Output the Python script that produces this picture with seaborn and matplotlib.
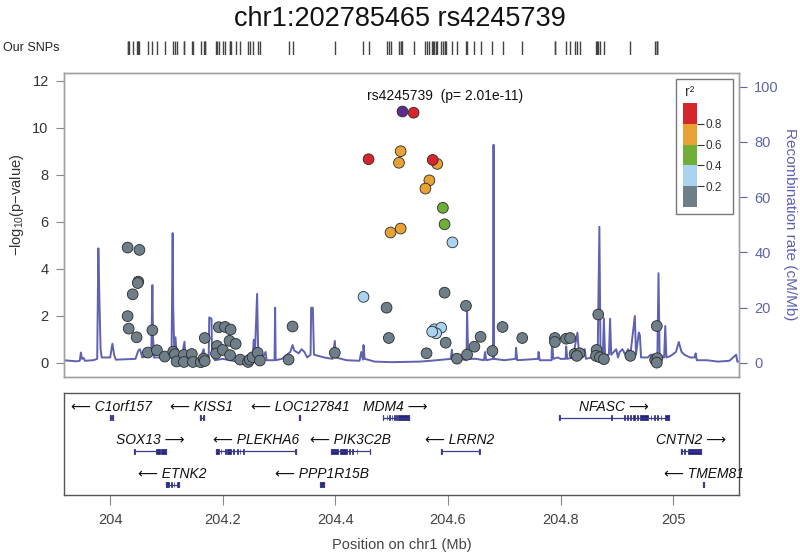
import numpy as np
import pandas as pd
import matplotlib
matplotlib.use("Agg")
import matplotlib.pyplot as plt
import seaborn as sns
from matplotlib.patches import Rectangle
from matplotlib.colors import ListedColormap, BoundaryNorm
from matplotlib.cm import ScalarMappable

# ---- data ----
lead_name = "rs4245739"
lead_p = "2.01e-11"
title = "chr1:202785465 rs4245739"

# SNPs: position (Mb), -log10(p), r2 with the lead SNP
snp_pos = [
    204.031, 204.052, 204.050, 204.049, 204.040, 204.031, 204.033, 204.047, 204.075, 204.067,
    204.083, 204.097, 204.112, 204.115, 204.118, 204.131, 204.131, 204.145, 204.147, 204.161,
    204.166, 204.168, 204.168, 204.190, 204.188, 204.193, 204.204, 204.214, 204.200, 204.212,
    204.223, 204.213, 204.231, 204.245, 204.248, 204.253, 204.262, 204.266, 204.317, 204.324,
    204.399, 204.594, 204.491, 204.632, 204.495, 204.596, 204.562, 204.616, 204.634, 204.647,
    204.658, 204.679, 204.697, 204.732, 204.790, 204.790, 204.810, 204.817, 204.867, 204.825,
    204.834, 204.829, 204.864, 204.863, 204.870, 204.877, 204.924, 204.971, 204.968, 204.972,
    204.971,
    204.608, 204.450, 204.576, 204.588, 204.579, 204.572,
    204.591, 204.594,
    204.516, 204.513, 204.581, 204.567, 204.560, 204.498, 204.516,
    204.539, 204.459, 204.573,
    204.519,
]
snp_logp = [
    4.91, 4.81, 3.46, 3.40, 2.92, 1.99, 1.46, 1.09, 1.39, 0.44,
    0.54, 0.27, 0.48, 0.37, 0.06, 0.34, 0.04, 0.38, 0.04, 0.03,
    0.18, 0.08, 1.06, 0.72, 0.40, 1.52, 1.53, 1.42, 0.55, 0.94,
    0.81, 0.33, 0.14, 0.04, 0.14, 0.24, 0.43, 0.10, 0.14, 1.55,
    0.43, 2.99, 2.35, 2.43, 1.06, 0.86, 0.41, 0.18, 0.35, 0.69,
    1.11, 0.51, 1.53, 1.06, 1.06, 0.89, 1.03, 1.06, 2.06, 0.38,
    0.41, 0.30, 0.55, 0.30, 0.24, 0.16, 0.30, 1.57, 0.13, 0.20,
    0.01,
    5.13, 2.81, 1.43, 1.50, 1.26, 1.33,
    6.60, 5.90,
    9.01, 8.52, 8.47, 7.77, 7.42, 5.55, 5.72,
    10.65, 8.67, 8.64,
    10.71,
]
snp_r2 = [0.1] * 71 + [0.3] * 6 + [0.5] * 2 + [0.7] * 7 + [0.9] * 3 + [1.0]

# recombination rate (cM/Mb)
rec_pos = [
    203.918, 203.940, 203.946, 203.948, 203.950, 203.953, 203.955, 203.970, 203.977, 203.979,
    203.981, 203.983, 203.985, 204.000, 204.004, 204.007, 204.010, 204.045, 204.050, 204.053,
    204.057, 204.065, 204.073, 204.075, 204.076, 204.078, 204.090, 204.100, 204.109, 204.111,
    204.112, 204.114, 204.116, 204.118, 204.127, 204.132, 204.134, 204.145, 204.160, 204.166,
    204.169, 204.175, 204.176, 204.180, 204.181, 204.186, 204.200, 204.225, 204.240, 204.253,
    204.255, 204.257, 204.261, 204.263, 204.270, 204.276, 204.278, 204.292, 204.293, 204.294,
    204.305, 204.320, 204.324, 204.327, 204.335, 204.340, 204.345, 204.350, 204.356, 204.357,
    204.360, 204.362, 204.380, 204.395, 204.399, 204.401, 204.420, 204.443, 204.446, 204.449,
    204.450, 204.452, 204.470, 204.500, 204.550, 204.580, 204.605, 204.607, 204.609, 204.620,
    204.633, 204.634, 204.636, 204.650, 204.664, 204.666, 204.668, 204.680, 204.681, 204.682,
    204.700, 204.720, 204.721, 204.723, 204.760, 204.761, 204.763, 204.784, 204.785, 204.787,
    204.795, 204.800, 204.809, 204.810, 204.812, 204.822, 204.830, 204.833, 204.843, 204.845,
    204.855, 204.866, 204.869, 204.871, 204.875, 204.877, 204.879, 204.886, 204.888, 204.890,
    204.899, 204.902, 204.905, 204.910, 204.915, 204.920, 204.924, 204.932, 204.934, 204.939,
    204.941, 204.943, 204.955, 204.960, 204.965, 204.972, 204.974, 204.976, 204.984, 204.986,
    204.988, 204.995, 205.005, 205.010, 205.015, 205.020, 205.030, 205.038, 205.040, 205.042,
    205.060, 205.080, 205.100, 205.112, 205.114, 205.117,
]
rec_rate = [
    1.0, 0.6, 0.8, 3.8, 1.5, 1.8, 0.8, 1.0, 1.5, 41.5,
    22.0, 5.0, 2.0, 2.0, 7.0, 3.0, 1.2, 1.5, 4.5, 5.0,
    2.0, 2.5, 3.0, 28.2, 10.0, 2.0, 2.0, 1.5, 2.0, 47.0,
    20.0, 3.0, 9.3, 3.0, 2.0, 7.7, 2.0, 1.0, 1.5, 5.0,
    1.5, 2.0, 16.5, 16.0, 3.0, 1.0, 1.5, 0.5, 0.8, 1.2,
    8.4, 2.5, 25.0, 3.0, 1.5, 4.0, 1.0, 1.0, 20.0, 1.0,
    1.5, 4.0, 6.5, 4.5, 3.5, 5.0, 4.0, 2.0, 3.0, 20.0,
    20.0, 3.0, 2.0, 1.5, 8.0, 2.0, 1.0, 0.8, 4.0, 1.2,
    6.5, 1.5, 0.5, 0.3, 0.5, 1.0, 1.5, 4.8, 1.0, 1.5,
    1.0, 19.2, 1.5, 1.5, 1.0, 4.0, 1.0, 1.5, 79.0, 1.5,
    1.0, 1.5, 5.5, 1.0, 1.5, 4.0, 1.0, 1.0, 8.4, 1.5,
    2.0, 1.5, 1.5, 6.0, 1.5, 2.0, 11.0, 3.0, 5.0, 1.5,
    2.0, 3.0, 49.3, 3.0, 2.0, 16.2, 3.0, 3.0, 16.0, 3.0,
    5.0, 2.0, 4.0, 5.0, 3.0, 5.0, 3.0, 17.0, 3.0, 11.0,
    10.0, 2.0, 2.0, 3.0, 3.0, 2.0, 32.5, 3.0, 2.0, 13.4,
    2.0, 2.5, 4.0, 7.6, 4.0, 3.0, 2.0, 2.0, 3.5, 1.0,
    1.0, 0.5, 0.8, 3.0, 0.5, 0.5,
]

# genes
gene_names = ["C1orf157", "KISS1", "LOC127841", "MDM4", "NFASC",
              "SOX13", "PLEKHA6", "PIK3C2B", "LRRN2", "CNTN2",
              "ETNK2", "PPP1R15B", "TMEM81"]
gene_start = [204.000, 204.160, 204.336, 204.484, 204.798,
              204.043, 204.188, 204.392, 204.587, 205.014,
              204.099, 204.373, 205.053]
gene_end = [204.005, 204.166, 204.338, 204.530, 204.993,
            204.099, 204.330, 204.462, 204.656, 205.049,
            204.122, 204.379, 205.055]
gene_strand = ["-", "-", "-", "+", "+", "+", "-", "-", "-", "+", "-", "-", "-"]
gene_row = [0, 0, 0, 0, 0, 1, 1, 1, 1, 1, 2, 2, 2]
gene_exons = [
    [(204.000, 204.0015), (204.0035, 204.005)],
    [(204.160, 204.1615), (204.1645, 204.166)],
    [(204.336, 204.338)],
    [(204.484, 204.485), (204.491, 204.492), (204.496, 204.497), (204.500, 204.501),
     (204.504, 204.505), (204.508, 204.509), (204.512, 204.530)],
    [(204.798, 204.799), (204.890, 204.891), (204.913, 204.914), (204.918, 204.919),
     (204.924, 204.925), (204.928, 204.933), (204.936, 204.937), (204.941, 204.955),
     (204.960, 204.961), (204.966, 204.967), (204.972, 204.973), (204.978, 204.979),
     (204.985, 204.993)],
    [(204.043, 204.044), (204.081, 204.088), (204.091, 204.099)],
    [(204.188, 204.193), (204.196, 204.197), (204.204, 204.205), (204.208, 204.214),
     (204.219, 204.220), (204.225, 204.226), (204.230, 204.231), (204.236, 204.237),
     (204.329, 204.330)],
    [(204.392, 204.405), (204.408, 204.420), (204.424, 204.425), (204.430, 204.431),
     (204.438, 204.439), (204.461, 204.462)],
    [(204.587, 204.589), (204.655, 204.657)],
    [(205.014, 205.015), (205.020, 205.021), (205.027, 205.049)],
    [(204.099, 204.104), (204.108, 204.109), (204.113, 204.114), (204.118, 204.122)],
    [(204.373, 204.379)],
    [(205.053, 205.055)],
]

r2_bins = [0, 0.2, 0.4, 0.6, 0.8, 1.0]
r2_colors = ["#6E7F8A", "#A9D3F0", "#6FAF38", "#E8A233", "#D5272B"]
lead_color = "#5A2D8F"
rec_color = "#5E62AF"

# ---- style ----
sns.set_theme(style="white")
plt.rcParams["font.family"] = ["Liberation Sans", "DejaVu Sans"]
plt.rcParams["mathtext.default"] = "regular"

xlim = (203.918, 205.117)
W, H = 800, 552
L, R = 64 / W, 739 / W

fig = plt.figure(figsize=(8, 5.52), dpi=100)
ax = fig.add_axes([L, 1 - 377 / H, R - L, (377 - 73) / H])
ax_rug = fig.add_axes([L, 1 - 55 / H, R - L, 14 / H])
ax_g = fig.add_axes([L, 1 - 495 / H, R - L, (495 - 393) / H])

# recombination line on a twin axis, behind the points
ax2 = ax.twinx()
sns.lineplot(x=rec_pos, y=rec_rate, ax=ax2, color=rec_color, lw=1.4,
             estimator=None, sort=False)
ax2.set_ylim(-5.07, 104.96)
ax2.set_yticks(range(0, 101, 20))
ax2.tick_params(axis="y", colors=rec_color, labelsize=10.5, length=6, width=0.8,
                direction="out", pad=5)
ax2.set_ylabel("")
ax.set_zorder(ax2.get_zorder() + 1)
ax.patch.set_visible(False)

# points
df = pd.DataFrame({"pos": snp_pos, "logp": snp_logp, "r2": snp_r2})
df["bin"] = pd.cut(df["r2"], r2_bins, labels=False, include_lowest=True).astype(int)
others = df[df["r2"] < 1.0].sort_values("r2")
sns.scatterplot(data=others, x="pos", y="logp", hue="bin",
                palette=dict(enumerate(r2_colors)), s=60, edgecolor="#2a2a2a",
                linewidth=0.6, legend=False, ax=ax, zorder=3)
lead = df[df["r2"] >= 1.0]
sns.scatterplot(data=lead, x="pos", y="logp", color=lead_color, s=60,
                edgecolor="#2a2a2a", linewidth=0.6, ax=ax, zorder=4)
ax.text(0.565, 0.925, f"{lead_name}  (p= {lead_p})", transform=ax.transAxes,
        ha="center", va="center", fontsize=10, color="#111111")

ax.set_xlim(xlim)
ax.set_ylim(-0.6, 12.34)
ax.set_yticks(range(0, 13, 2))
ax.set_xticks([])
ax.set_xlabel("")
ax.set_ylabel("")
ax.tick_params(axis="y", labelcolor="#333333", color="#888888", labelsize=10.5,
               length=6, width=0.8, direction="out", pad=5)
for a in (ax, ax2):
    for sp in a.spines.values():
        sp.set_color("#A0A0A0")
        sp.set_linewidth(1)
ax2.tick_params(axis="y", color=rec_color)

fig.text(17 / W, 1 - 205 / H, "\u2212log$_{10}$(p\u2212value)", rotation=90,
         ha="center", va="center", fontsize=10.5, color="#333333")
fig.text(790 / W, 1 - 224 / H, "Recombination rate (cM/Mb)", rotation=270,
         ha="center", va="center", fontsize=11, color=rec_color)

# r2 legend
fig.add_artist(Rectangle((676 / W, 1 - 214 / H), 57 / W, 135 / H,
                         transform=fig.transFigure, fc="white", ec="#777777",
                         lw=1, zorder=2))
cax = fig.add_axes([683 / W, 1 - 207 / H, 14 / W, 104 / H])
cax.set_zorder(5)
sm = ScalarMappable(norm=BoundaryNorm(r2_bins, 5), cmap=ListedColormap(r2_colors))
cb = fig.colorbar(sm, cax=cax)
cb.outline.set_visible(False)
cb.set_ticks([0.2, 0.4, 0.6, 0.8], labels=["0.2", "0.4", "0.6", "0.8"])
cb.ax.minorticks_off()
cb.ax.tick_params(labelsize=8.5, length=5, width=0.8, color="#333333",
                  labelcolor="#333333", pad=1)
t = fig.text(690 / W, 1 - 92 / H, "r\u00b2", ha="center", va="center",
             fontsize=10, color="#333333")
t.set_zorder(6)

# SNP rug
sns.rugplot(x=snp_pos, ax=ax_rug, height=1, color="#444444", lw=0.7,
            expand_margins=False)
ax_rug.set_xlim(xlim)
ax_rug.set_ylim(0, 1)
ax_rug.axis("off")
fig.text(3 / W, 1 - 48 / H, "Our SNPs", ha="left", va="center", fontsize=9,
         color="#222222")

# genes
gene_line = "#3B3B94"
exon_color = "#23237A"
for name, s, e, strand, row, exons in zip(gene_names, gene_start, gene_end,
                                          gene_strand, gene_row, gene_exons):
    y = row + 0.74
    ax_g.plot([s, e], [y, y], color=gene_line, lw=0.9, solid_capstyle="butt")
    ax_g.plot([s, s], [y - 0.08, y + 0.08], color=gene_line, lw=0.9)
    ax_g.plot([e, e], [y - 0.08, y + 0.08], color=gene_line, lw=0.9)
    for es, ee in exons:
        ax_g.add_patch(Rectangle((es, y - 0.08), max(ee - es, 0.0012), 0.16,
                                 fc=exon_color, ec=exon_color, lw=0.5))
    label = "\u27f5 " + name if strand == "-" else name + " \u27f6"
    ax_g.text((s + e) / 2, row + 0.41, label, ha="center", va="center",
              fontsize=10, style="italic", color="#111111",
              family=["Liberation Sans", "DejaVu Sans"])

ax_g.set_xlim(xlim)
ax_g.set_ylim(3.05, 0)
ax_g.set_yticks([])
ax_g.set_xticks([204, 204.2, 204.4, 204.6, 204.8, 205])
ax_g.set_xticklabels(["204", "204.2", "204.4", "204.6", "204.8", "205"])
ax_g.tick_params(axis="x", labelsize=10.5, labelcolor="#444444", color="#888888",
                 length=7, width=0.8, direction="out", pad=6, bottom=True)
for sp in ax_g.spines.values():
    sp.set_color("#555555")
    sp.set_linewidth(1)

fig.text(0.5, 1 - 19 / H, title, ha="center", va="center", fontsize=19.5,
         color="#111111")
fig.text(402 / W, 1 - 545 / H, "Position on chr1 (Mb)", ha="center",
         va="center", fontsize=10.5, color="#444444")

fig.savefig("out.png", dpi=100)
